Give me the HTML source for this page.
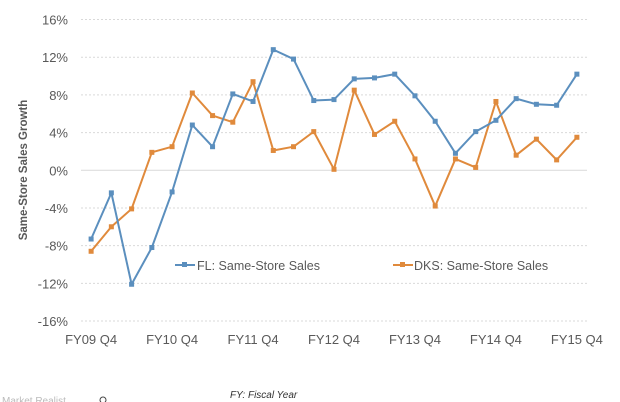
<!DOCTYPE html>
<html><head><meta charset="utf-8"><style>
body{margin:0;background:#fff;width:620px;height:402px;overflow:hidden}
svg{display:block;font-family:"Liberation Sans",Arial,sans-serif}
</style></head><body>
<svg id="chart" width="620" height="402">
<g id="grid"></g>
<g id="yticks"></g>
<g id="xticks"></g>
<g id="series"></g>
<text transform="translate(27,170) rotate(-90)" text-anchor="middle" font-size="11.5" font-weight="bold" fill="#595959">Same-Store Sales Growth</text>
<g>
 <g>
  <line x1="175" y1="265" x2="195" y2="265" stroke="#5b8fbe" stroke-width="2"/>
  <rect x="182" y="262" width="5" height="5" fill="#5b8fbe"/>
  <text x="197" y="270" font-size="12.5" fill="#595959">FL: Same-Store Sales</text>
 </g>
 <g>
  <line x1="393" y1="265" x2="413" y2="265" stroke="#e08a3c" stroke-width="2"/>
  <rect x="400" y="262" width="5" height="5" fill="#e08a3c"/>
  <text x="414" y="270" font-size="12.5" fill="#595959">DKS: Same-Store Sales</text>
 </g>
</g>
<text x="230" y="398" font-size="10" font-style="italic" fill="#333">FY: Fiscal Year</text>
<text x="2" y="404" font-size="10" fill="#bbb">Market Realist</text>
<circle cx="103" cy="400" r="3" fill="none" stroke="#444" stroke-width="1"/>
</svg>
<script>
const categories=["FY09 Q4","Q1","Q2","Q3","FY10 Q4","Q1","Q2","Q3","FY11 Q4","Q1","Q2","Q3","FY12 Q4","Q1","Q2","Q3","FY13 Q4","Q1","Q2","Q3","FY14 Q4","Q1","Q2","Q3","FY15 Q4"];
const flValues=[-7.3,-2.4,-12.1,-8.2,-2.3,4.8,2.5,8.1,7.3,12.8,11.8,7.4,7.5,9.7,9.8,10.2,7.9,5.2,1.8,4.1,5.3,7.6,7.0,6.9,10.2];
const dksValues=[-8.6,-6.0,-4.1,1.9,2.5,8.2,5.8,5.1,9.4,2.1,2.5,4.1,0.1,8.5,3.8,5.2,1.2,-3.8,1.2,0.3,7.3,1.6,3.3,1.1,3.5];
const yTicks=[16,12,8,4,0,-4,-8,-12,-16];
const xLabelIdx=[0,4,8,12,16,20,24];
const NS="http://www.w3.org/2000/svg";
const L=81,R=587,T=19.5,B=321,ymin=-16,ymax=16;
const bw=(R-L)/categories.length;
const xs=i=>L+bw*(i+0.5);
const ys=v=>B-(v-ymin)/(ymax-ymin)*(B-T);
function mk(tag,attrs,parent){const e=document.createElementNS(NS,tag);for(const k in attrs)e.setAttribute(k,attrs[k]);parent.appendChild(e);return e;}
const grid=document.getElementById('grid'),yt=document.getElementById('yticks'),xt=document.getElementById('xticks'),ser=document.getElementById('series');
yTicks.forEach(v=>{
 const g=mk('line',{x1:L,x2:R,y1:ys(v),y2:ys(v),stroke:v===0?'#d9d9d9':'#d9d9d9','stroke-width':1,'stroke-dasharray':v===0?'':'2,2'},grid);
 
 
 const t=mk('text',{x:68,y:ys(v)+5,'text-anchor':'end','font-size':13,fill:'#595959'},yt);
 t.textContent=v+'%';
 
 
});
xLabelIdx.forEach(i=>{
 const t=mk('text',{x:xs(i),y:344,'text-anchor':'middle','font-size':13,fill:'#595959'},xt);
 t.textContent=categories[i];
 
 
});
function draw(vals,color,name){
 const p=mk('polyline',{points:vals.map((v,i)=>xs(i)+','+ys(v)).join(' '),fill:'none',stroke:color,'stroke-width':2,'stroke-linejoin':'round'},ser);
 
 
 vals.forEach((v,i)=>{
  const r=mk('rect',{x:xs(i)-2.5,y:ys(v)-2.5,width:5,height:5,fill:color},ser);
  
  
 });
}
draw(dksValues,'#e08a3c','dks');
draw(flValues,'#5b8fbe','fl');
</script>
</body></html>
